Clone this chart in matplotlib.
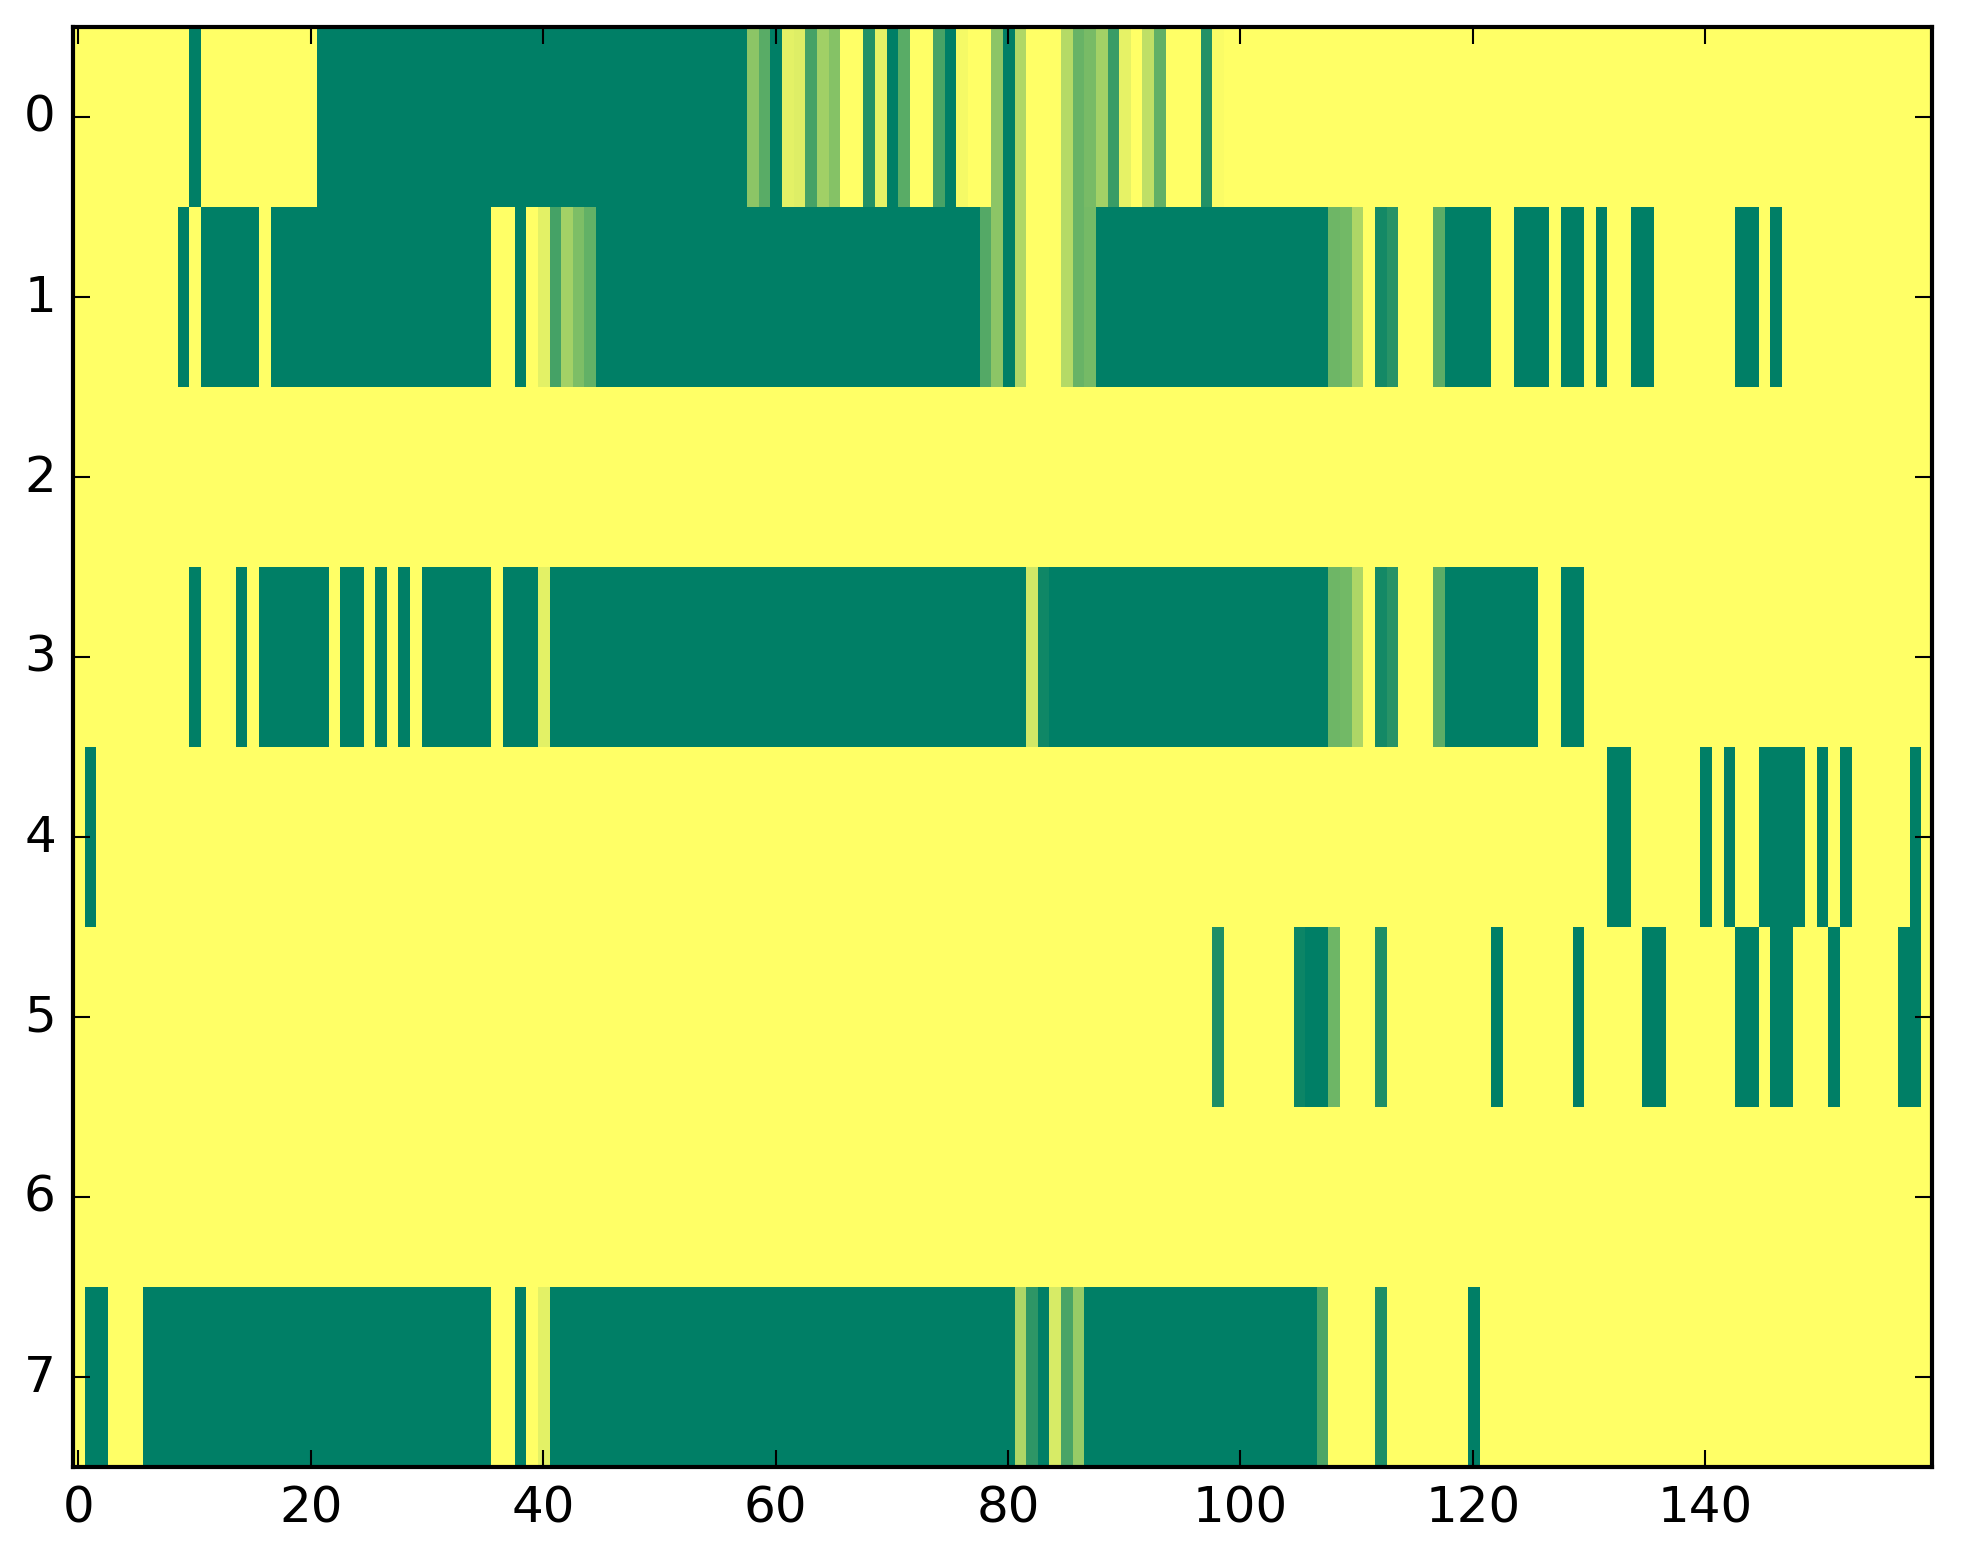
import numpy as np
import matplotlib
matplotlib.use("Agg")
import matplotlib.pyplot as plt

plt.style.use("classic")

# cell values per row, 160 columns each (0 = yellow, 1 = green)
row0 = [0, 0, 0, 0, 0, 0, 0, 0, 0, 0, 1, 0, 0, 0, 0, 0, 0, 0, 0, 0,
        0, 1, 1, 1, 1, 1, 1, 1, 1, 1, 1, 1, 1, 1, 1, 1, 1, 1, 1, 1,
        1, 1, 1, 1, 1, 1, 1, 1, 1, 1, 1, 1, 1, 1, 1, 1, 1, 1, .45, .65,
        1, .11, .13, .73, .37, .48, 0, 0, .86, .10, 1, .65, 0, 0, .72, 1, .04, 0, 0, .45,
        1, .31, 0, 0, 0, .29, .59, .53, .36, .77, .10, 0, .25, .62, 0, 0, 0, .86, .02, 0,
        0, 0, 0, 0, 0, 0, 0, 0, 0, 0, 0, 0, 0, 0, 0, 0, 0, 0, 0, 0,
        0, 0, 0, 0, 0, 0, 0, 0, 0, 0, 0, 0, 0, 0, 0, 0, 0, 0, 0, 0,
        0, 0, 0, 0, 0, 0, 0, 0, 0, 0, 0, 0, 0, 0, 0, 0, 0, 0, 0, 0]

row1 = [0, 0, 0, 0, 0, 0, 0, 0, 0, 1, 0, 1, 1, 1, 1, 1, 0, 1, 1, 1,
        1, 1, 1, 1, 1, 1, 1, 1, 1, 1, 1, 1, 1, 1, 1, 1, 0, 0, 1, 0,
        .11, .73, .36, .51, .61, 1, 1, 1, 1, 1, 1, 1, 1, 1, 1, 1, 1, 1, 1, 1,
        1, 1, 1, 1, 1, 1, 1, 1, 1, 1, 1, 1, 1, 1, 1, 1, 1, 1, .67, .45,
        1, .31, 0, 0, 0, .29, .59, .54, 1, 1, 1, 1, 1, 1, 1, 1, 1, 1, 1, 1,
        1, 1, 1, 1, 1, 1, 1, 1, .57, .55, .32, 0, .92, .84, 0, 0, 0, .64, 1, 1,
        1, 1, 0, 0, 1, 1, 1, 0, 1, 1, 0, 1, 0, 0, 1, 1, 0, 0, 0, 0,
        0, 0, 0, 1, 1, 0, 1, 0, 0, 0, 0, 0, 0, 0, 0, 0, 0, 0, 0, 0]

row2 = [0] * 160

row3 = [0, 0, 0, 0, 0, 0, 0, 0, 0, 0, 1, 0, 0, 0, 1, 0, 1, 1, 1, 1,
        1, 1, 0, 1, 1, 0, 1, 0, 1, 0, 1, 1, 1, 1, 1, 1, 0, 1, 1, 1,
        .11, 1, 1, 1, 1, 1, 1, 1, 1, 1, 1, 1, 1, 1, 1, 1, 1, 1, 1, 1,
        1, 1, 1, 1, 1, 1, 1, 1, 1, 1, 1, 1, 1, 1, 1, 1, 1, 1, 1, 1,
        1, 1, .18, .94, 1, 1, 1, 1, 1, 1, 1, 1, 1, 1, 1, 1, 1, 1, 1, 1,
        1, 1, 1, 1, 1, 1, 1, 1, .57, .55, .32, 0, .92, .84, 0, 0, 0, .64, 1, 1,
        1, 1, 1, 1, 1, 1, 0, 0, 1, 1, 0, 0, 0, 0, 0, 0, 0, 0, 0, 0,
        0, 0, 0, 0, 0, 0, 0, 0, 0, 0, 0, 0, 0, 0, 0, 0, 0, 0, 0, 0]

row4 = [0, 1, 0, 0, 0, 0, 0, 0, 0, 0, 0, 0, 0, 0, 0, 0, 0, 0, 0, 0,
        0, 0, 0, 0, 0, 0, 0, 0, 0, 0, 0, 0, 0, 0, 0, 0, 0, 0, 0, 0,
        0, 0, 0, 0, 0, 0, 0, 0, 0, 0, 0, 0, 0, 0, 0, 0, 0, 0, 0, 0,
        0, 0, 0, 0, 0, 0, 0, 0, 0, 0, 0, 0, 0, 0, 0, 0, 0, 0, 0, 0,
        0, 0, 0, 0, 0, 0, 0, 0, 0, 0, 0, 0, 0, 0, 0, 0, 0, 0, 0, 0,
        0, 0, 0, 0, 0, 0, 0, 0, 0, 0, 0, 0, 0, 0, 0, 0, 0, 0, 0, 0,
        0, 0, 0, 0, 0, 0, 0, 0, 0, 0, 0, 0, 1, 1, 0, 0, 0, 0, 0, 0,
        1, 0, 1, 0, 0, 1, 1, 1, 1, 0, 1, 0, 1, 0, 0, 0, 0, 0, 1, 0]

row5 = [0, 0, 0, 0, 0, 0, 0, 0, 0, 0, 0, 0, 0, 0, 0, 0, 0, 0, 0, 0,
        0, 0, 0, 0, 0, 0, 0, 0, 0, 0, 0, 0, 0, 0, 0, 0, 0, 0, 0, 0,
        0, 0, 0, 0, 0, 0, 0, 0, 0, 0, 0, 0, 0, 0, 0, 0, 0, 0, 0, 0,
        0, 0, 0, 0, 0, 0, 0, 0, 0, 0, 0, 0, 0, 0, 0, 0, 0, 0, 0, 0,
        0, 0, 0, 0, 0, 0, 0, 0, 0, 0, 0, 0, 0, 0, 0, 0, 0, 0, .88, 0,
        0, 0, 0, 0, 0, .95, 1, 1, .57, 0, 0, 0, .88, 0, 0, 0, 0, 0, 0, 0,
        0, 0, 1, 0, 0, 0, 0, 0, 0, 1, 0, 0, 0, 0, 0, 1, 1, 0, 0, 0,
        0, 0, 0, 1, 1, 0, 1, 1, 0, 0, 0, 1, 0, 0, 0, 0, 0, 1, 1, 0]

row6 = [0] * 160

row7 = [0, 1, 1, 0, 0, 0, 1, 1, 1, 1, 1, 1, 1, 1, 1, 1, 1, 1, 1, 1,
        1, 1, 1, 1, 1, 1, 1, 1, 1, 1, 1, 1, 1, 1, 1, 1, 0, 0, 1, 0,
        .11, 1, 1, 1, 1, 1, 1, 1, 1, 1, 1, 1, 1, 1, 1, 1, 1, 1, 1, 1,
        1, 1, 1, 1, 1, 1, 1, 1, 1, 1, 1, 1, 1, 1, 1, 1, 1, 1, 1, 1,
        1, .32, .82, 1, .16, .71, .41, 1, 1, 1, 1, 1, 1, 1, 1, 1, 1, 1, 1, 1,
        1, 1, 1, 1, 1, 1, 1, .70, 0, 0, 0, 0, .88, 0, 0, 0, 0, 0, 0, 0,
        1, 0, 0, 0, 0, 0, 0, 0, 0, 0, 0, 0, 0, 0, 0, 0, 0, 0, 0, 0,
        0, 0, 0, 0, 0, 0, 0, 0, 0, 0, 0, 0, 0, 0, 0, 0, 0, 0, 0, 0]

data = np.array([row0, row1, row2, row3, row4, row5, row6, row7], dtype=float)

W, H, DPI = 1963, 1564, 300
fig = plt.figure(figsize=(W / DPI, H / DPI), dpi=DPI, facecolor="white")
ax = fig.add_axes([72.5 / W, (H - 1468) / H, (1932 - 72.5) / W, (1468 - 28) / H])

ax.imshow(data, cmap="summer_r", vmin=0, vmax=1, aspect="auto",
          interpolation="nearest")

ax.set_xticks(np.arange(0, 160, 20))
ax.set_yticks(np.arange(0, 8))
ax.tick_params(labelsize=12)
ax.set_xlim(-0.5, 159.5)
ax.set_ylim(7.5, -0.5)

fig.savefig("out.png", dpi=DPI, facecolor="white")
